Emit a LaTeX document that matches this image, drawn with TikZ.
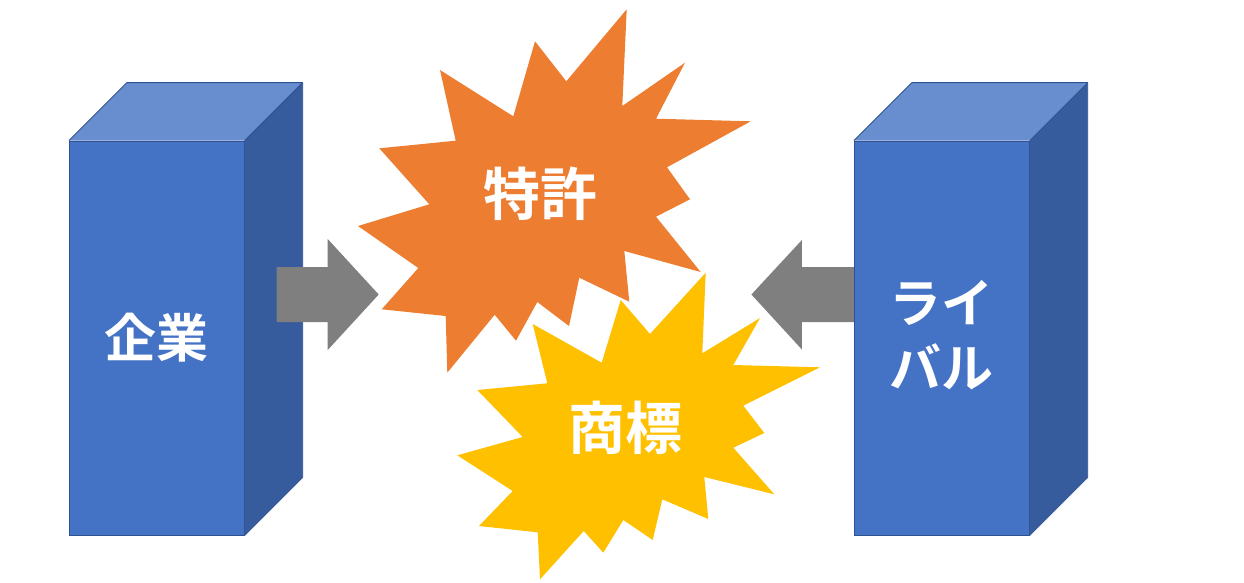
\documentclass[tikz,border=0pt]{standalone}
\usepackage{fontspec}
\newfontfamily\jpfont{Noto Sans CJK JP}[BoldFont={* Bold}]
\usetikzlibrary{positioning, calc}
\definecolor{boxblue}{HTML}{4472C4}
\definecolor{boxtop}{HTML}{698ED0}
\definecolor{boxside}{HTML}{365C9E}
\definecolor{boxline}{HTML}{2F528F}
\definecolor{myorange}{HTML}{ED7D31}
\definecolor{myyellow}{HTML}{FFC000}
\definecolor{mygray}{HTML}{7F7F7F}

\begin{document}
\begin{tikzpicture}
[x=1pt, y=-1pt,
 front/.style={rectangle, fill=boxblue, draw=boxline, line width=0.8pt, inner sep=0pt,
   minimum width=175pt, minimum height=394pt},
 face/.style={draw=boxline, line width=0.8pt, line join=round},
 lbl/.style={text=white, align=center, font=\jpfont\bfseries\fontsize{52}{65}\selectfont},
 blk/.style={fill=mygray},
 every text node part/.style={align=center}]

\useasboundingbox (0,0) rectangle (1244,582);

% boxes (front faces)
\node[front] (K) at (156.8,338) {};
\node[front] (R) at (941.8,338) {};

% top and side faces
\foreach \b in {K, R} {
  \fill[boxtop] (\b.north west) -- ($(\b.north west)+(58,-58)$) -- ($(\b.north east)+(58,-58)$) -- (\b.north east) -- cycle;
  \fill[boxside] (\b.north east) -- ($(\b.north east)+(58,-58)$) -- ($(\b.south east)+(58,-58)$) -- (\b.south east) -- cycle;
  \draw[face] (\b.north west) -- ($(\b.north west)+(58,-58)$) -- ($(\b.north east)+(58,-58)$)
    -- ($(\b.south east)+(58,-58)$) -- (\b.south east);
  \draw[face] (\b.north east) -- ($(\b.north east)+(58,-58)$);
}

% labels of the boxes
\node[lbl] (Kt) at (K) {企業};
\node[lbl] (Rt) at ($(R)+(0,-3)$) {ライ\\バル};

% block arrows
\fill[blk] ($(K.east)+(32,-71)$) -- ++(51,0) -- ++(0,-28) -- ++(51,55.5) -- ++(-51,55.5)
  -- ++(0,-28) -- ++(-51,0) -- cycle;
\fill[blk] ($(R.west)+(0,-71)$) -- ++(-52,0) -- ++(0,-27) -- ++(-50.5,54.5) -- ++(50.5,55)
  -- ++(0,-27.5) -- ++(52,0) -- cycle;

% patent burst
\fill[myorange] (626.7,9.3) -- (622.3,106) -- (685,62.7) -- (656,118.7) -- (750.7,121.3)
  -- (667,167.3) -- (690,199.3) -- (656,216.7) -- (700.7,272) -- (624.3,251)
  -- (629.3,301.7) -- (579.3,277.7) -- (569,326) -- (537.3,302) -- (516,340.7)
  -- (494.7,314.7) -- (447.3,372.7) -- (445.7,316) -- (381.7,309.3) -- (418.3,268)
  -- (358,226) -- (429.3,204.3) -- (379.3,148.3) -- (455.7,140.7) -- (440,70)
  -- (513.3,116.3) -- (535,41.3) -- (566.3,81.3) -- cycle;
\node[lbl, font=\jpfont\bfseries\fontsize{57}{60}\selectfont] (P) at (540,194) {特許};

% trademark burst
\fill[myyellow] (705.7,272.7) -- (702.3,353.3) -- (760,318) -- (733.3,365) -- (820,367.3)
  -- (743.3,405.7) -- (764.3,433) -- (733.3,447.7) -- (774.3,494.3) -- (704.3,477)
  -- (708.3,519) -- (662.3,499.3) -- (652.7,540) -- (623.3,520) -- (603.3,552.7)
  -- (583.7,531) -- (540,579.3) -- (537.7,532.3) -- (479,526) -- (512.7,491)
  -- (457.3,455.3) -- (522.7,437) -- (477.3,390) -- (547.3,383.3) -- (532.7,324)
  -- (601.7,362.7) -- (620.7,300) -- (650,334) -- cycle;
\node[lbl, font=\jpfont\bfseries\fontsize{57}{60}\selectfont] (T) at (625.5,428) {商標};

\end{tikzpicture}
\end{document}
